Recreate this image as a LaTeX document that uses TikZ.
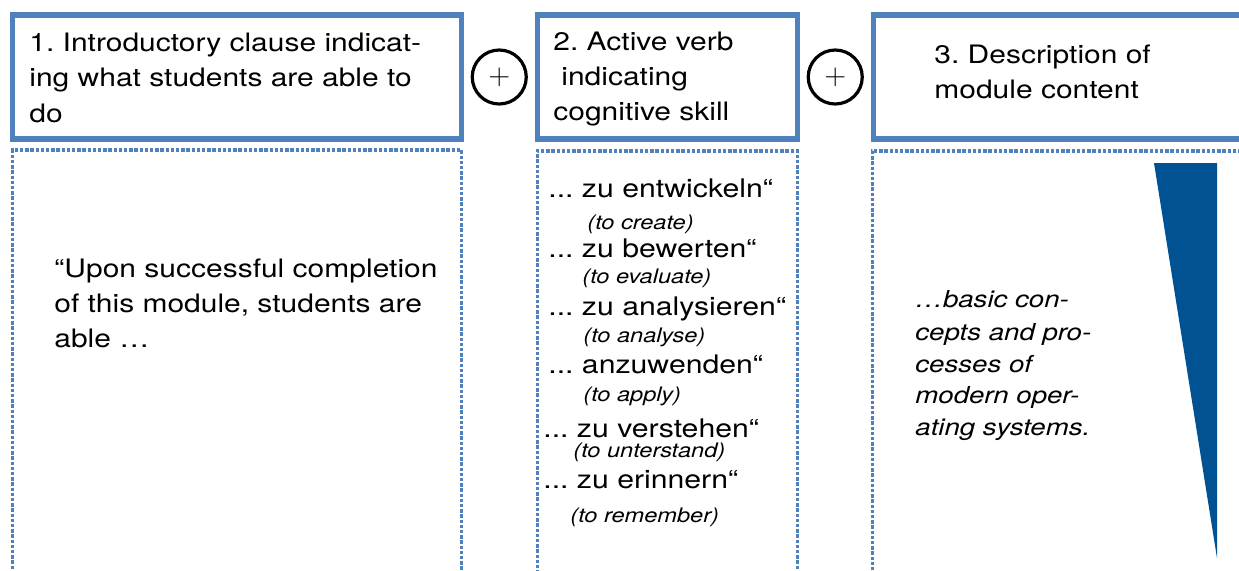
\documentclass[tikz,border=0pt]{standalone}
\usepackage{fontspec}
\setmainfont[FakeStretch=1.18]{TeX Gyre Heros}
\usetikzlibrary{positioning}
\frenchspacing

\definecolor{frameblue}{RGB}{79,129,189}
\definecolor{wedgeblue}{RGB}{0,82,147}

\begin{document}
\begin{tikzpicture}[x=0.5pt,y=-0.5pt,
    headbox/.style={draw=frameblue,line width=2.6pt,outer sep=0pt,inner sep=0pt,
                    minimum height=62pt},
    bodybox/.style={draw=frameblue,line width=1.7pt,dash pattern=on 1.7pt off 0.9pt,
                    outer sep=0pt,inner sep=0pt,minimum height=235pt},
    plussign/.style={circle,draw,line width=1.6pt,outer sep=0pt,inner sep=0pt,
                     minimum size=27pt,font=\fontsize{15}{15}\selectfont},
    txt/.style={anchor=base west,inner sep=0pt,font=\fontsize{12.7}{15}\selectfont},
    verb/.style={txt,font=\fontsize{12.8}{15}\selectfont},
    gloss/.style={txt,font=\fontsize{10}{12}\selectfont\itshape},
    topic/.style={txt,font=\fontsize{11.7}{14}\selectfont\itshape}]
  \useasboundingbox (0,0) rectangle (1239,570);
  \clip (0,0) rectangle (1239,570);

  % frames
  \node[headbox,minimum width=224.25pt] (head1) at (237,77) {};
  \node[plussign] (plus1) [right=5.5pt of head1] {$+$};
  \node[headbox,minimum width=130pt]    (head2) [right=5.5pt of plus1] {};
  \node[plussign] (plus2) [right=5.5pt of head2] {$+$};
  \node[headbox,minimum width=213pt]    (head3) [right=5.5pt of plus2] {};

  \node[bodybox,minimum width=224.5pt] (body1) [below=5.5pt of head1] {};
  \node[bodybox,minimum width=130pt]   (body2) [below=6pt of head2] {};
  \node[bodybox,minimum width=214pt]   (body3) [below=6pt of head3] {};

  % wedge
  \fill[wedgeblue] (1154,163) -- (1217,163) -- (1217,558) -- cycle;

  % header texts
  \node[txt] (h1a) at (29,51)  {1. Introductory clause indicat-};
  \node[txt] (h1b) at (29,86)  {ing what students are able to};
  \node[txt] (h1c) at (29,122) {do};
  \node[txt] (h2a) at (553,50)  {2. Active verb};
  \node[txt] (h2b) at (561,85)  {indicating};
  \node[txt] (h2c) at (553,120) {cognitive skill};
  \node[txt] (h3a) at (934,63) {3. Description of};
  \node[txt] (h3b) at (934,98) {module content};

  % column 1
  \node[txt] (b1a) at (54,277) {“Upon successful completion};
  \node[txt] (b1b) at (54,312) {of this module, students are};
  \node[txt] (b1c) at (54,347) {able …};

  % column 2
  \node[verb]  (create)   at (548,197) {... zu entwickeln“};
  \node[gloss] (createE)  at (587,229) {(to create)};
  \node[verb]  (evaluate) at (548,257) {... zu bewerten“};
  \node[gloss] (evaluateE) at (582,283) {(to evaluate)};
  \node[verb]  (analyse)  at (548,315) {... zu analysieren“};
  \node[gloss] (analyseE) at (583,342) {(to analyse)};
  \node[verb]  (apply)    at (548,373) {... anzuwenden“};
  \node[gloss] (applyE)   at (583,401) {(to apply)};
  \node[verb]  (understand) at (543,437) {... zu verstehen“};
  \node[gloss] (understandE) at (573,457) {(to unterstand)};
  \node[verb]  (remember) at (543,488) {... zu erinnern“};
  \node[gloss] (rememberE) at (570,522) {(to remember)};

  % column 3
  \node[topic] (b3a) at (915,307) {…basic con-};
  \node[topic] (b3b) at (915,340) {cepts and pro-};
  \node[topic] (b3c) at (915,372) {cesses of};
  \node[topic] (b3d) at (915,403) {modern oper-};
  \node[topic] (b3e) at (915,435) {ating systems.};
\end{tikzpicture}
\end{document}
